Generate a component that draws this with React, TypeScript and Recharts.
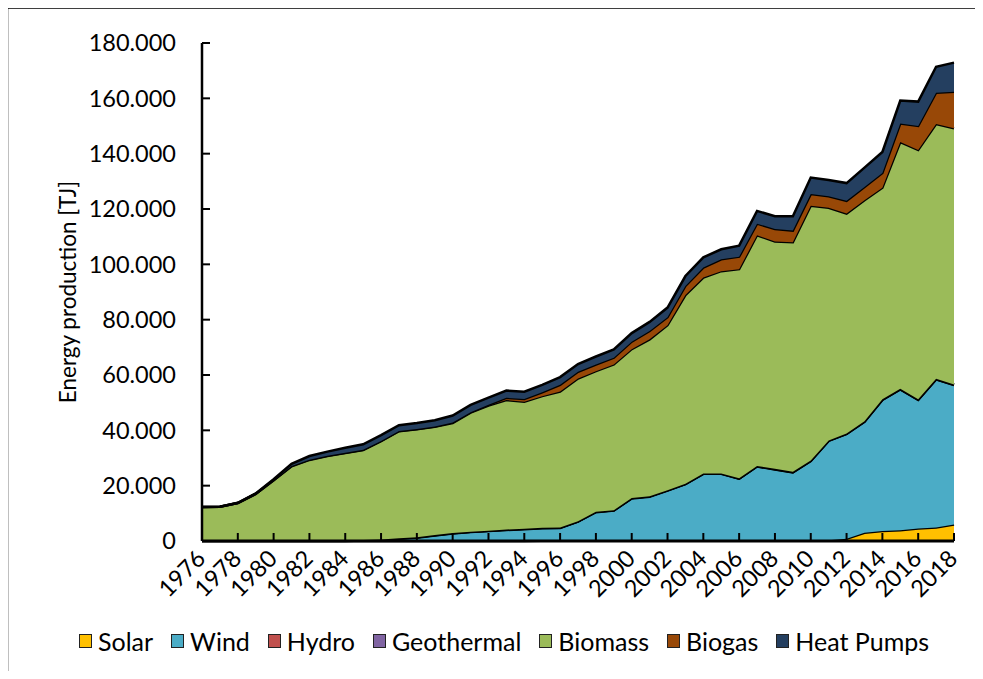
import React from "react"
import { AreaChart, Area, XAxis, YAxis } from "recharts"

const years = [
  1976, 1977, 1978, 1979, 1980, 1981, 1982, 1983, 1984, 1985, 1986,
  1987, 1988, 1989, 1990, 1991, 1992, 1993, 1994, 1995, 1996, 1997,
  1998, 1999, 2000, 2001, 2002, 2003, 2004, 2005, 2006, 2007, 2008,
  2009, 2010, 2011, 2012, 2013, 2014, 2015, 2016, 2017, 2018,
]

// TJ per year
const solar = [
  0, 0, 0, 0, 0, 0, 0, 0, 0, 0, 0,
  0, 10, 10, 20, 20, 30, 40, 40, 50, 50, 60,
  80, 80, 90, 110, 110, 130, 130, 140, 150, 170, 180,
  200, 230, 300, 800, 3000, 3600, 3900, 4500, 4900, 6000,
]
const wind = [
  0, 0, 0, 0, 0, 0, 0, 0, 0, 200, 400,
  800, 1200, 2000, 2700, 3200, 3550, 3950, 4250, 4550, 4650, 6950,
  10350, 10900, 15300, 15900, 18100, 20400, 24150, 24150, 22350, 26750, 25700,
  24600, 28650, 35900, 37900, 40100, 47400, 50900, 46500, 53500, 50400,
]
const hydro = [
  110, 120, 110, 100, 120, 130, 110, 100, 110, 120, 130,
  110, 100, 110, 100, 120, 110, 100, 110, 120, 90, 70,
  100, 110, 110, 120, 110, 90, 100, 80, 80, 100, 90,
  80, 80, 60, 60, 50, 60, 60, 70, 80, 60,
]
const geothermal = [
  0, 0, 0, 0, 0, 0, 0, 0, 20, 40, 50,
  60, 50, 60, 50, 40, 50, 60, 50, 40, 50, 60,
  50, 40, 50, 60, 50, 60, 50, 70, 80, 90, 100,
  110, 120, 110, 100, 120, 130, 140, 150, 140, 150,
]
const biomass = [
  12200, 12300, 13600, 16900, 21800, 26900, 29200, 30600, 31700, 32500, 35500,
  38700, 39000, 39100, 39800, 43000, 45200, 46800, 45900, 47600, 49200, 51600,
  50800, 52700, 53800, 56700, 59600, 68200, 70800, 73100, 75600, 83400, 82200,
  83000, 92100, 84100, 79500, 79900, 76500, 89200, 90100, 92100, 92600,
]
const biogas = [
  0, 0, 0, 0, 0, 100, 100, 100, 100, 100, 100,
  100, 100, 100, 200, 200, 300, 800, 1000, 1400, 2400, 2400,
  2400, 2400, 2700, 3000, 2900, 3300, 3600, 4300, 4500, 4200, 4500,
  4200, 4200, 4100, 4600, 4800, 5300, 6700, 8700, 11300, 13200,
]
const heatPumps = [
  0, 0, 100, 200, 400, 800, 1300, 1500, 1800, 2000, 2100,
  2100, 2200, 2300, 2500, 2600, 2600, 2600, 2600, 2700, 2800, 2800,
  2900, 3000, 3100, 3300, 3500, 3600, 3700, 3600, 4000, 4600, 4600,
  5200, 6000, 5900, 6400, 7000, 7600, 8300, 8800, 9400, 10500,
]

const yTicks = [0, 20000, 40000, 60000, 80000, 100000, 120000, 140000, 160000, 180000]

const series = [
  { key: "solar", name: "Solar", color: "#FFC000" },
  { key: "wind", name: "Wind", color: "#4BACC6" },
  { key: "hydro", name: "Hydro", color: "#C0504D" },
  { key: "geothermal", name: "Geothermal", color: "#8064A2" },
  { key: "biomass", name: "Biomass", color: "#9BBB59" },
  { key: "biogas", name: "Biogas", color: "#984807" },
  { key: "heatPumps", name: "Heat Pumps", color: "#243F60" },
]

const data = years.map((year, i) => ({
  year: String(year),
  solar: solar[i],
  wind: wind[i],
  hydro: hydro[i],
  geothermal: geothermal[i],
  biomass: biomass[i],
  biogas: biogas[i],
  heatPumps: heatPumps[i],
}))

const FONT = "Lato, 'Open Sans', sans-serif"

const fmtY = (v: number) => (v === 0 ? "0" : `${v / 1000}.000`)

function YearTick({ x, y, payload }: any) {
  return (
    <text
      transform={`translate(${x + 5}, ${y + 19}) rotate(-45)`}
      textAnchor="end"
      fontSize={23.5}
      fontFamily={FONT}
      fill="#000"
    >
      {payload.value}
    </text>
  )
}

export default function App() {
  return (
    <div
      style={{
        position: "relative",
        margin: -8,
        width: 983,
        height: 679,
        overflow: "hidden",
        background: "#fff",
        fontFamily: FONT,
      }}
    >
      {/* outer frame: only its top and left edges fall inside the picture */}
      <svg
        width={983}
        height={679}
        style={{ position: "absolute", left: 0, top: 0 }}
      >
        <path d="M7 679 V7.5 H983" fill="none" stroke="#000" strokeWidth={2.5} />
      </svg>
      <div style={{ position: "absolute", left: 0, top: 0 }}>
        <AreaChart
          width={983}
          height={679}
          data={data}
          margin={{ top: 43, right: 29, left: 0, bottom: 78 }}
        >
          <XAxis
            dataKey="year"
            interval={1}
            height={60}
            tickSize={-8}
            tickMargin={8}
            tick={<YearTick />}
            axisLine={{ stroke: "#000", strokeWidth: 3 }}
            tickLine={{ stroke: "#000", strokeWidth: 2 }}
          />
          <YAxis
            width={202}
            domain={[0, 180000]}
            ticks={yTicks}
            interval={0}
            tickSize={-8}
            tickMargin={34}
            tickFormatter={fmtY}
            tick={{ fill: "#000", fontSize: 23.5, fontFamily: FONT }}
            axisLine={{ stroke: "#000", strokeWidth: 2.5 }}
            tickLine={{ stroke: "#000", strokeWidth: 2 }}
            label={() => (
              <text
                x={67}
                y={292}
                transform="rotate(-90, 67, 292)"
                textAnchor="middle"
                dominantBaseline="central"
                fontSize={22.5}
                fontFamily={FONT}
                fill="#000"
              >
                Energy production [TJ]
              </text>
            )}
          />
          {series.map((s) => (
            <Area
              key={s.key}
              type="linear"
              dataKey={s.key}
              name={s.name}
              stackId="1"
              fill={s.color}
              fillOpacity={1}
              stroke="#000"
              strokeWidth={2.5}
              isAnimationActive={false}
            />
          ))}
        </AreaChart>
      </div>
      <div
        style={{
          position: "absolute",
          left: 79,
          top: 626,
          display: "flex",
          alignItems: "center",
          gap: 18,
          fontSize: 25,
          lineHeight: "30px",
          color: "#000",
        }}
      >
        {series.map((s) => (
          <div key={s.key} style={{ display: "flex", alignItems: "center" }}>
            <span
              style={{
                display: "inline-block",
                width: 11,
                height: 12,
                background: s.color,
                border: "1.5px solid #222",
                marginRight: 6,
              }}
            />
            <span>{s.name}</span>
          </div>
        ))}
      </div>
    </div>
  )
}
